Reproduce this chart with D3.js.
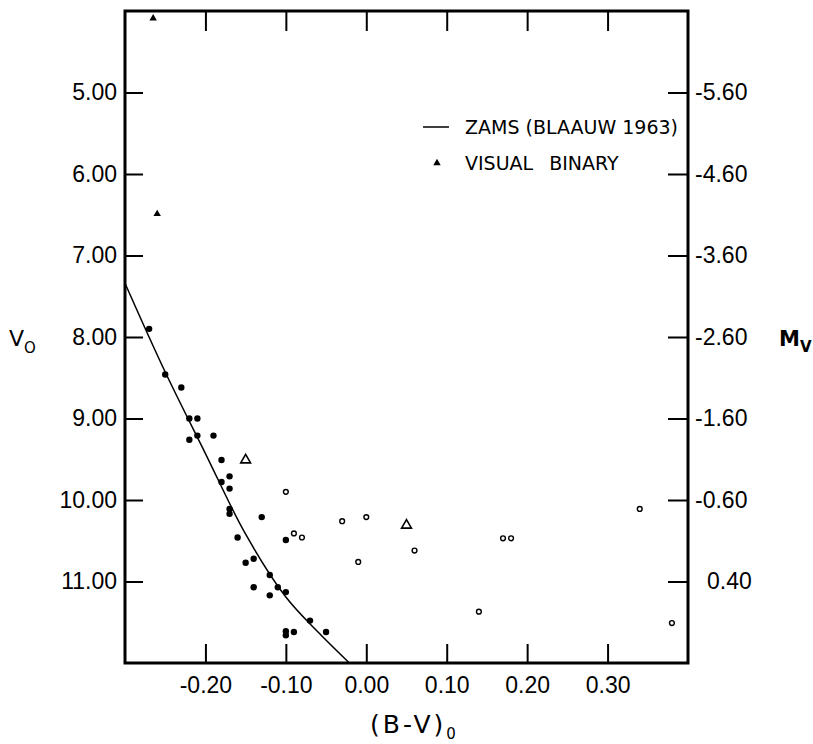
<!DOCTYPE html>
<html>
<head>
<meta charset="utf-8">
<script src="https://cdn.jsdelivr.net/npm/d3@7"></script>
<style>
  body { margin: 0; background: #fff; }
  svg { display: block; font-family: 'DejaVu Sans', sans-serif; }
</style>
</head>
<body>
<svg id="chart"></svg>
<script>
// cluster members on the main sequence (filled dots)
const memberBV = [-0.27, -0.25, -0.23, -0.22, -0.21, -0.22, -0.21, -0.19, -0.18, -0.18, -0.17, -0.17, -0.17, -0.17,
  -0.13, -0.16, -0.10, -0.15, -0.14, -0.14, -0.12, -0.12, -0.11, -0.10, -0.07, -0.05, -0.10, -0.10, -0.09];
const memberV = [7.90, 8.46, 8.62, 9.00, 9.00, 9.26, 9.21, 9.21, 9.51, 9.78, 9.71, 9.86, 10.11, 10.17,
  10.21, 10.46, 10.49, 10.77, 10.72, 11.07, 10.92, 11.17, 11.07, 11.13, 11.48, 11.62, 11.61, 11.66, 11.62];

// open circles
const fieldBV = [-0.10, -0.09, -0.08, -0.03, 0.00, -0.01, 0.06, 0.17, 0.18, 0.14, 0.34, 0.38];
const fieldV = [9.90, 10.41, 10.46, 10.26, 10.21, 10.76, 10.62, 10.47, 10.47, 11.37, 10.11, 11.51];

// open triangles
const openTriBV = [-0.15, 0.05];
const openTriV = [9.51, 10.31];

// visual binaries (filled triangles)
const binaryBV = [-0.265, -0.26];
const binaryV = [4.09, 6.49];

// ZAMS (Blaauw 1963), shifted to the cluster distance
const zamsBV = [-0.30, -0.25, -0.20, -0.15, -0.10, -0.06, -0.021];
const zamsV = [7.34, 8.43, 9.43, 10.42, 11.19, 11.62, 12.00];

const bvTicks = [-0.20, -0.10, 0.00, 0.10, 0.20, 0.30];
const vTicks = [5, 6, 7, 8, 9, 10, 11];
const mvTickLabels = ['-5.60', '-4.60', '-3.60', '-2.60', '-1.60', '-0.60', '0.40'];

const W = 813, H = 744;
const margin = { top: 11, right: 125, bottom: 81, left: 125 };
const width = W - margin.left - margin.right;
const height = H - margin.top - margin.bottom;

const svg = d3.select('#chart').attr('width', W).attr('height', H);
const g = svg.append('g').attr('transform', `translate(${margin.left},${margin.top})`);

const x = d3.scaleLinear().domain([-0.30, 0.40]).range([0, width]);
const y = d3.scaleLinear().domain([4, 12]).range([0, height]);

const zip = (a, b) => a.map((d, i) => [d, b[i]]);

// axes, ticks pointing inward
const styleAxis = (sel, size) => {
  sel.select('.domain').remove();
  sel.selectAll('.tick line').attr('stroke', '#000').attr('stroke-width', 2);
  sel.selectAll('.tick text').attr('fill', '#000').attr('font-size', size);
};

g.append('g')
  .call(d3.axisLeft(y).tickValues(vTicks).tickSizeInner(-18).tickSizeOuter(0).tickPadding(8)
    .tickFormat(d => d.toFixed(2)))
  .call(sel => styleAxis(sel, 23));

g.append('g')
  .attr('transform', `translate(${width},0)`)
  .call(d3.axisRight(y).tickValues(vTicks).tickSizeInner(-20).tickSizeOuter(0).tickPadding(7)
    .tickFormat((d, i) => mvTickLabels[i]))
  .call(sel => styleAxis(sel, 23))
  .call(sel => sel.selectAll('.tick text').filter(t => !mvTickLabels[vTicks.indexOf(t)].startsWith('-'))
    .attr('dx', 12));

g.append('g')
  .attr('transform', `translate(0,${height})`)
  .call(d3.axisBottom(x).tickValues(bvTicks).tickSizeInner(-19).tickSizeOuter(0).tickPadding(14)
    .tickFormat(d => d.toFixed(2)))
  .call(sel => styleAxis(sel, 23));

g.append('g')
  .call(d3.axisTop(x).tickValues(bvTicks).tickSizeInner(-20).tickSizeOuter(0).tickFormat(''))
  .call(sel => styleAxis(sel, 23));

// frame
g.append('rect')
  .attr('width', width)
  .attr('height', height)
  .attr('fill', 'none')
  .attr('stroke', '#000')
  .attr('stroke-width', 3);

// ZAMS curve
g.append('path')
  .datum(zip(zamsBV, zamsV))
  .attr('d', d3.line().x(d => x(d[0])).y(d => y(d[1])).curve(d3.curveCatmullRom))
  .attr('fill', 'none')
  .attr('stroke', '#000')
  .attr('stroke-width', 1.5);

g.selectAll('.member')
  .data(zip(memberBV, memberV))
  .enter()
  .append('circle')
  .attr('class', 'member')
  .attr('cx', d => x(d[0]))
  .attr('cy', d => y(d[1]))
  .attr('r', 3.2)
  .attr('fill', '#000');

g.selectAll('.field')
  .data(zip(fieldBV, fieldV))
  .enter()
  .append('circle')
  .attr('class', 'field')
  .attr('cx', d => x(d[0]))
  .attr('cy', d => y(d[1]))
  .attr('r', 2.4)
  .attr('fill', '#fff')
  .attr('stroke', '#000')
  .attr('stroke-width', 1.4);

const tri = d3.symbol().type(d3.symbolTriangle);

g.selectAll('.opentri')
  .data(zip(openTriBV, openTriV))
  .enter()
  .append('path')
  .attr('class', 'opentri')
  .attr('transform', d => `translate(${x(d[0])},${y(d[1])})`)
  .attr('d', tri.size(42)())
  .attr('fill', '#fff')
  .attr('stroke', '#000')
  .attr('stroke-width', 1.6);

g.selectAll('.binary')
  .data(zip(binaryBV, binaryV))
  .enter()
  .append('path')
  .attr('class', 'binary')
  .attr('transform', d => `translate(${x(d[0])},${y(d[1])})`)
  .attr('d', tri.size(24)())
  .attr('fill', '#000');

// legend
svg.append('line')
  .attr('x1', 423).attr('x2', 449)
  .attr('y1', 127).attr('y2', 127)
  .attr('stroke', '#000')
  .attr('stroke-width', 1.5);
svg.append('text')
  .attr('x', 465).attr('y', 134)
  .attr('font-size', 19)
  .text('ZAMS (BLAAUW 1963)');
svg.append('path')
  .attr('transform', 'translate(437,163)')
  .attr('d', tri.size(24)())
  .attr('fill', '#000');
svg.append('text')
  .attr('x', 465).attr('y', 170)
  .attr('font-size', 19)
  .style('word-spacing', '10px')
  .text('VISUAL BINARY');

// axis titles
const vLab = svg.append('text').attr('x', 9).attr('y', 346).attr('font-size', 22);
vLab.append('tspan').text('V');
vLab.append('tspan').attr('font-size', 15).attr('dy', 7).text('O');

const mLab = svg.append('text').attr('x', 779).attr('y', 346).attr('font-size', 21).attr('font-weight', 'bold');
mLab.append('tspan').text('M');
mLab.append('tspan').attr('font-size', 15).attr('dy', 6).text('V');

const bvLab = svg.append('text').attr('x', 370).attr('y', 733).attr('font-size', 25).style('letter-spacing', '3px');
bvLab.append('tspan').text('(B-V)');
bvLab.append('tspan').attr('font-size', 15).attr('dy', 6).text('0');
</script>
</body>
</html>
